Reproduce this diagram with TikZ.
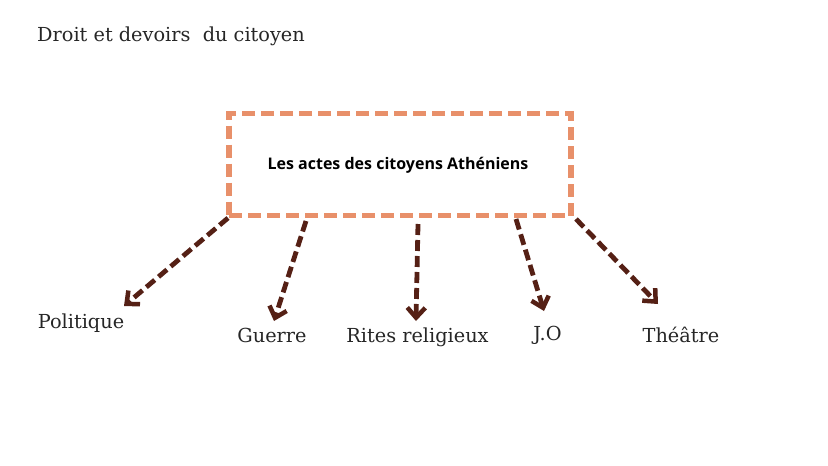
\documentclass[tikz,border=0pt]{standalone}
\usepackage{fontspec}
\setmainfont{DejaVu Serif}
\newfontfamily\boxfont{Open Sans}
\usetikzlibrary{arrows.meta}
\definecolor{boxorange}{HTML}{E8906A}
\definecolor{arrowbrown}{HTML}{552015}
\tikzset{
  actbox/.style={draw=boxorange, line width=5.5pt, dash pattern=on 13pt off 6pt, minimum width=342pt, minimum height=102pt, inner sep=0pt},
  actarrow/.style={draw=arrowbrown, line width=4.8pt, dash pattern=on 11pt off 5pt, -{Straight Barb[length=10pt,width=18pt,line width=4.5pt]}, shorten >=0pt},
  lbl/.style={inner sep=0pt, font=\fontsize{19.3}{22}\selectfont, text=black!85},
}
\begin{document}
\begin{tikzpicture}[x=1pt,y=-1pt]
\useasboundingbox (0,0) rectangle (828,466);
\node[lbl, anchor=west] (title) at (37,36) {Droit et devoirs\ \ du citoyen};
\node[actbox] (box) at (400,164.5) {};
\node[font=\boxfont\bfseries\fontsize{16}{19}\selectfont] (boxtxt) at (398,165) {Les actes des citoyens Athéniens};
\coordinate (s1) at (228,218);
\coordinate (s2) at (306,221);
\coordinate (s3) at (418,224);
\coordinate (s4) at (516,219);
\coordinate (s5) at (576,219);
\coordinate (e1) at (124,306);
\coordinate (e2) at (274,321);
\coordinate (e3) at (416,321);
\coordinate (e4) at (544,311);
\coordinate (e5) at (658,304);
\draw[actarrow] (s1) -- (e1);
\draw[actarrow] (s2) -- (e2);
\draw[actarrow] (s3) -- (e3);
\draw[actarrow] (s4) -- (e4);
\draw[actarrow] (s5) -- (e5);
\node[lbl] (pol) at (81,323) {Politique};
\node[lbl] (gue) at (272,335) {Guerre};
\node[lbl] (rit) at (417.5,337) {Rites religieux};
\node[lbl] (jo) at (547.5,335) {J.O};
\node[lbl] (the) at (681,335) {Théâtre};
\end{tikzpicture}
\end{document}
